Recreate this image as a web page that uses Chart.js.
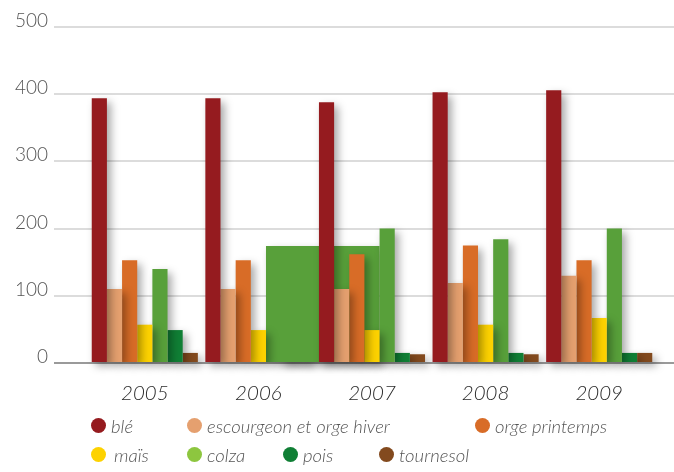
<!DOCTYPE html>
<html>
<head>
<meta charset="utf-8">
<script src="https://cdn.jsdelivr.net/npm/chart.js@4.4.0/dist/chart.umd.min.js"></script>
<style>
  html, body { margin: 0; padding: 0; background: #fff; }
  #wrap { position: relative; width: 674px; height: 472px; overflow: hidden; }
  #chart { position: absolute; left: 0; top: 0; }
  .legend {
    position: absolute; left: 91px; top: 411px;
    display: grid; grid-template-columns: repeat(5, 96px); grid-auto-rows: 29px;
    font-family: Lato, "Open Sans", sans-serif; font-style: italic; font-weight: 300;
    font-size: 18.5px; color: #555;
  }
  .legend-item { display: flex; align-items: center; white-space: nowrap; }
  .legend-dot { width: 15px; height: 15px; border-radius: 50%; margin-right: 5px; flex: none; }
</style>
</head>
<body>
<div id="wrap">
  <canvas id="chart" width="674" height="472"></canvas>
  <div class="legend" id="legend"></div>
</div>
<script>
// data
const years = ["2005", "2006", "2007", "2008", "2009"];
const seriesNames = ["blé", "escourgeon et orge hiver", "orge printemps", "maïs", "colza", "pois", "tournesol"];
const ble = [394, 394, 388, 403, 406];
const escourgeon = [110, 110, 110, 119, 130];
const orgePrintemps = [153, 153, 162, 175, 153];
const mais = [57, 49, 49, 57, 67];
const colza = [140, 174, 200, 184, 200];
const pois = [49, 15, 15, 15, 15];
const tournesol = [15, 13, 13, 13, 15];
const yTicks = [0, 100, 200, 300, 400, 500];

const barColors = ["#951b1f", "#e5a06f", "#d86c27", "#fdd200", "#58a03a", "#107f35", "#834a1e"];
const dotColors = ["#951b1f", "#e5a06f", "#d86c27", "#fdd200", "#8dc63f", "#107f35", "#834a1e"];
const seriesValues = [ble, escourgeon, orgePrintemps, mais, colza, pois, tournesol];

// soft drop shadow under every bar
const barShadow = {
  id: "barShadow",
  beforeDatasetsDraw(chart) {
    const c = chart.ctx;
    c.save();
    c.shadowColor = "rgba(0,0,0,0.35)";
    c.shadowBlur = 8;
    c.shadowOffsetX = 4;
    c.shadowOffsetY = 4;
  },
  afterDatasetsDraw(chart) {
    chart.ctx.restore();
  },
};

// the 2006 colza bar is drawn one category wide in the original
const wideColza = {
  id: "wideColza",
  afterDatasetsUpdate(chart) {
    const el = chart.getDatasetMeta(4).data[1];
    const x = chart.scales.x;
    const catW = x.getPixelForValue(1) - x.getPixelForValue(0);
    const left = el.x - el.width / 2;
    el.width = catW;
    el.x = left + catW / 2;
  },
};

const setTicks = (s) => { s.ticks = yTicks.map((v) => ({ value: v })); };
const gridColor = (ctx) => (ctx.tick && ctx.tick.value === 0 ? "#9a9a9a" : "#dcdcdc");

new Chart(document.getElementById("chart").getContext("2d"), {
  type: "bar",
  data: {
    labels: years,
    datasets: seriesValues.map((vals, i) => ({
      label: seriesNames[i],
      data: vals,
      backgroundColor: barColors[i],
      borderWidth: 0,
      clip: false,
    })),
  },
  options: {
    responsive: false,
    animation: false,
    layout: { padding: { top: 27 } },
    datasets: { bar: { categoryPercentage: 0.934, barPercentage: 1 } },
    plugins: { legend: { display: false }, tooltip: { enabled: false } },
    scales: {
      x: {
        offset: true,
        grid: { display: false, drawTicks: false },
        border: { display: false },
        ticks: {
          padding: 18,
          color: "#2a2a2a",
          font: { family: "Lato", style: "italic", weight: 300, size: 20.5 },
        },
        afterFit: (s) => { s.height = 109; },
      },
      y: {
        min: 0,
        max: 500,
        afterBuildTicks: setTicks,
        grid: { color: gridColor, tickColor: gridColor, lineWidth: 2, tickLength: 34 },
        border: { display: false },
        ticks: {
          padding: 6,
          color: "#555",
          font: { family: "Lato", weight: 300, size: 19, lineHeight: 0.65 },
          // empty second line lifts each label so it sits on its gridline
          callback: (v) => [String(v), ""],
        },
        afterFit: (s) => { s.width = 88; },
      },
      y2: {
        position: "right",
        min: 0,
        max: 500,
        afterBuildTicks: setTicks,
        grid: { drawOnChartArea: false, color: gridColor, tickColor: gridColor, lineWidth: 2, tickLength: 18 },
        border: { display: false },
        ticks: { display: false },
        afterFit: (s) => { s.width = 18; },
      },
    },
  },
  plugins: [barShadow, wideColza],
});

// legend laid out on a grid like the original
const legendSlots = [[1, 1], [1, 2], [1, 5], [2, 1], [2, 2], [2, 3], [2, 4]];
const legend = document.getElementById("legend");
seriesNames.forEach((name, i) => {
  const item = document.createElement("div");
  item.className = "legend-item";
  item.style.gridRow = legendSlots[i][0];
  item.style.gridColumn = legendSlots[i][1];
  item.innerHTML = `<span class="legend-dot" style="background:${dotColors[i]}"></span><span${name === "maïs" ? ' style="margin-left:3px"' : ""}>${name}</span>`;
  legend.appendChild(item);
});
</script>
</body>
</html>
